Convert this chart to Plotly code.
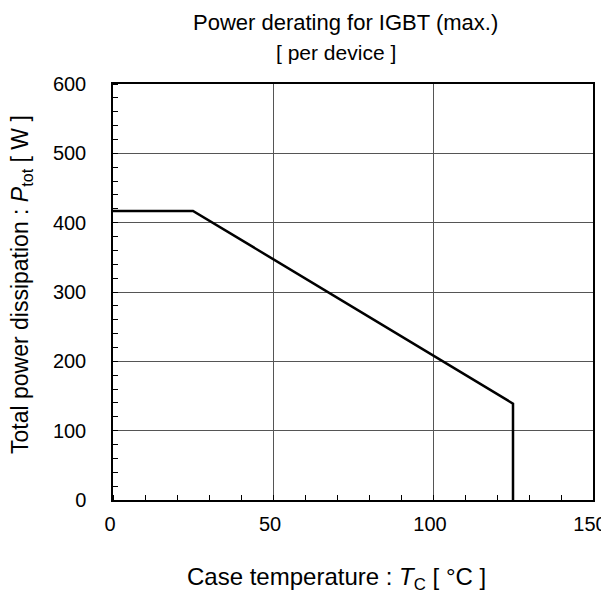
import plotly.graph_objects as go

temp_c = [0, 25, 125, 125]
p_tot = [417, 417, 139, 0]

x_ticks = [0, 50, 100, 150]
y_ticks = [0, 100, 200, 300, 400, 500, 600]

title_text = "Power derating for IGBT (max.)"
subtitle_text = "[ per device ]"
x_title = "Case temperature : <i>T</i><sub>C</sub> [ °C ]"
y_title = "Total power dissipation : <i>P</i><sub>tot</sub> [ W ]"

fig = go.Figure()
fig.add_trace(go.Scatter(x=temp_c, y=p_tot, mode="lines",
                         line=dict(color="black", width=2.5), showlegend=False))

font = "Liberation Sans, Arial, sans-serif"
FW, FH = 609, 595
OFF = 8  # page body margin
L, R, T, B = 105, 24, 76, 103
W = FW - L - R
H = FH - T - B

def px_x(sx):
    return (sx - OFF - L) / W

def px_y(sy):
    return (FH - B - (sy - OFF)) / H

fig.update_layout(
    width=FW, height=FH,
    margin=dict(l=L, r=R, t=T, b=B, autoexpand=False),
    paper_bgcolor="white", plot_bgcolor="white",
    font=dict(family=font, size=20, color="black"),
    xaxis=dict(range=[0, 150], tickvals=x_ticks, ticks="", showgrid=True,
               gridcolor="#555555", gridwidth=1, showline=True, linecolor="black",
               linewidth=1.5, mirror=True, zeroline=False, automargin=False,
               minor=dict(dtick=10, ticks="inside", ticklen=5, tickcolor="black", showgrid=False),
               tickfont=dict(size=20), ticklabelstandoff=5, ticklabelshift=-3,
               ticklabeloverflow="allow"),
    yaxis=dict(range=[0, 600], tickvals=y_ticks, ticks="", showgrid=True,
               gridcolor="#555555", gridwidth=1, showline=True, linecolor="black",
               linewidth=1.5, mirror=True, zeroline=False, automargin=False,
               minor=dict(dtick=20, ticks="inside", ticklen=5, tickcolor="black", showgrid=False),
               tickfont=dict(size=20), ticklabelstandoff=21),
    annotations=[
        dict(text=title_text, x=px_x(345), y=px_y(22), xref="paper", yref="paper",
             xanchor="center", yanchor="middle", showarrow=False, font=dict(size=22)),
        dict(text=subtitle_text, x=px_x(336), y=px_y(52), xref="paper", yref="paper",
             xanchor="center", yanchor="middle", showarrow=False, font=dict(size=21)),
        dict(text=x_title, x=px_x(336), y=px_y(578), xref="paper", yref="paper",
             xanchor="center", yanchor="middle", showarrow=False, font=dict(size=24)),
        dict(text=y_title, x=px_x(21), y=px_y(285), xref="paper", yref="paper",
             xanchor="center", yanchor="middle", showarrow=False, textangle=-90,
             font=dict(size=23)),
    ],
)

fig.write_html("out.html")
